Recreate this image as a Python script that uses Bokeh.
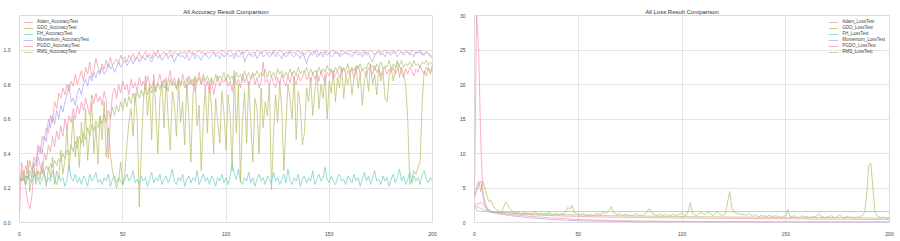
from bokeh.plotting import figure
from bokeh.layouts import row
from bokeh.models import FixedTicker, Legend, LegendItem, PrintfTickFormatter
from bokeh.embed import file_html
from bokeh.resources import INLINE

series_names = ["Adam", "GDO", "FH", "Momentum", "PGDO", "RMS"]
acc_ticks = [0.0, 0.2, 0.4, 0.6, 0.8, 1.0]
loss_ticks = [0, 5, 10, 15, 20, 25, 30]
epoch_ticks = [0, 50, 100, 150, 200]

adam_acc = [
0.22,0.30,0.26,0.33,0.28,0.36,0.30,0.38,0.35,0.45,0.40,0.50,0.48,0.55,0.52,0.62,0.58,0.70,0.66,0.75,
0.72,0.78,0.74,0.80,0.76,0.82,0.79,0.86,0.80,0.84,0.88,0.82,0.90,0.86,0.93,0.84,0.88,0.95,0.90,0.87,
0.92,0.89,0.94,0.90,0.96,0.91,0.93,0.95,0.92,0.97,0.94,0.96,0.93,0.97,0.95,0.98,0.94,0.96,0.99,0.95,
0.97,0.99,0.96,0.98,0.95,0.99,0.97,1.00,0.96,0.98,0.99,0.97,0.98,1.00,0.96,0.99,0.98,0.97,0.99,0.98,
0.99,0.97,1.00,0.98,0.99,0.97,0.99,1.00,0.98,0.99,0.97,0.99,0.98,1.00,0.99,0.97,0.99,0.98,1.00,0.99,
0.98,0.99,1.00,0.98,0.97,0.99,1.00,0.98,0.99,0.98,1.00,0.99,0.97,0.99,0.98,1.00,0.99,0.98,0.99,1.00,
0.98,0.99,0.97,1.00,0.99,0.98,1.00,0.99,0.97,0.99,0.98,1.00,0.99,0.98,0.99,1.00,0.98,0.99,0.97,0.99,
1.00,0.98,0.99,0.99,1.00,0.97,0.99,0.98,1.00,0.99,0.98,0.99,1.00,0.98,0.99,0.97,1.00,0.99,0.98,0.99,
1.00,0.99,0.98,1.00,0.99,0.98,0.99,1.00,0.98,0.99,1.00,0.99,0.97,0.99,1.00,0.98,0.99,1.00,0.99,0.98,
0.99,1.00,0.98,0.99,1.00,0.99,0.98,1.00,0.99,0.98,1.00,0.99,0.98,0.99,1.00,0.98,0.97,0.99,0.98,0.96,
0.95]

gdo_acc = [
0.26,0.24,0.30,0.22,0.36,0.18,0.28,0.34,0.22,0.30,0.25,0.35,0.28,0.21,0.32,0.26,0.38,0.22,0.30,0.25,
0.42,0.28,0.36,0.55,0.30,0.45,0.62,0.38,0.50,0.32,0.58,0.44,0.66,0.36,0.52,0.70,0.40,0.56,0.34,0.62,
0.48,0.70,0.38,0.55,0.40,0.30,0.25,0.20,0.24,0.35,0.22,0.28,0.45,0.58,0.66,0.50,0.75,0.60,0.09,0.44,
0.70,0.85,0.62,0.78,0.48,0.86,0.66,0.40,0.72,0.80,0.55,0.84,0.60,0.42,0.76,0.68,0.50,0.82,0.58,0.70,
0.45,0.80,0.62,0.35,0.74,0.84,0.56,0.68,0.30,0.60,0.78,0.52,0.82,0.66,0.40,0.72,0.58,0.46,0.76,0.64,
0.42,0.74,0.62,0.30,0.88,0.52,0.80,0.23,0.60,0.76,0.46,0.82,0.58,0.35,0.72,0.66,0.40,0.78,0.55,0.70,
0.62,0.80,0.19,0.50,0.74,0.58,0.82,0.66,0.30,0.55,0.80,0.72,0.60,0.85,0.48,0.76,0.68,0.45,0.52,0.78,
0.70,0.84,0.62,0.76,0.88,0.66,0.80,0.72,0.86,0.60,0.82,0.75,0.88,0.70,0.84,0.78,0.90,0.72,0.85,0.80,
0.87,0.74,0.84,0.90,0.78,0.86,0.68,0.82,0.88,0.76,0.92,0.80,0.86,0.74,0.90,0.82,0.88,0.72,0.70,0.85,
0.90,0.82,0.88,0.94,0.84,0.90,0.86,0.80,0.60,0.22,0.25,0.30,0.28,0.32,0.35,0.70,0.88,0.85,0.90,0.86,
0.92]

fh_acc = [
0.25,0.24,0.26,0.22,0.27,0.25,0.23,0.28,0.24,0.26,0.22,0.25,0.29,0.23,0.26,0.24,0.30,0.25,0.22,0.27,
0.24,0.26,0.21,0.25,0.33,0.26,0.24,0.28,0.23,0.26,0.22,0.27,0.25,0.21,0.28,0.24,0.26,0.29,0.23,0.25,
0.22,0.26,0.24,0.28,0.21,0.25,0.27,0.23,0.26,0.24,0.22,0.25,0.28,0.24,0.26,0.30,0.23,0.25,0.22,0.27,
0.24,0.26,0.21,0.25,0.29,0.23,0.26,0.24,0.28,0.22,0.25,0.27,0.23,0.26,0.31,0.24,0.22,0.26,0.24,0.28,
0.21,0.25,0.27,0.23,0.26,0.24,0.30,0.22,0.25,0.28,0.24,0.26,0.22,0.27,0.25,0.21,0.26,0.24,0.28,0.23,
0.26,0.22,0.27,0.34,0.28,0.25,0.31,0.24,0.22,0.26,0.24,0.29,0.23,0.26,0.21,0.25,0.28,0.24,0.26,0.22,
0.27,0.25,0.23,0.29,0.24,0.26,0.22,0.25,0.28,0.23,0.31,0.24,0.22,0.26,0.24,0.28,0.21,0.25,0.27,0.23,
0.26,0.24,0.30,0.22,0.25,0.28,0.24,0.26,0.32,0.25,0.23,0.27,0.24,0.22,0.26,0.28,0.24,0.25,0.22,0.27,
0.25,0.23,0.28,0.24,0.26,0.21,0.25,0.29,0.24,0.27,0.22,0.26,0.30,0.24,0.25,0.22,0.27,0.24,0.26,0.21,
0.25,0.28,0.23,0.26,0.31,0.24,0.27,0.22,0.25,0.29,0.23,0.27,0.24,0.26,0.22,0.28,0.30,0.25,0.23,0.26,
0.24]

momentum_acc = [
0.25,0.26,0.25,0.27,0.26,0.30,0.28,0.35,0.33,0.42,0.44,0.40,0.50,0.47,0.60,0.55,0.62,0.57,0.65,0.60,
0.68,0.64,0.70,0.74,0.80,0.70,0.72,0.68,0.75,0.78,0.74,0.80,0.83,0.79,0.85,0.82,0.87,0.84,0.88,0.86,
0.90,0.86,0.88,0.92,0.89,0.91,0.87,0.90,0.93,0.90,0.92,0.94,0.91,0.93,0.95,0.92,0.94,0.96,0.93,0.95,
0.96,0.94,0.97,0.95,0.93,0.96,0.98,0.95,0.97,0.94,0.96,0.98,0.95,0.97,0.96,0.93,0.96,0.98,0.96,0.97,
0.95,0.97,0.94,0.96,0.98,0.95,0.97,0.96,0.94,0.97,0.98,0.96,0.95,0.97,0.99,0.96,0.97,0.95,0.98,0.96,
0.97,0.98,0.96,0.97,0.95,0.98,0.96,0.97,0.99,0.93,0.96,0.98,0.97,0.96,0.98,0.95,0.97,0.99,0.96,0.97,
0.98,0.96,0.97,0.99,0.96,0.98,0.97,0.95,0.98,0.96,0.97,0.99,0.97,0.96,0.98,0.97,0.95,0.98,0.96,0.92,
0.96,0.98,0.97,0.99,0.96,0.97,0.98,0.96,0.99,0.97,0.98,0.96,0.97,0.99,0.98,0.96,0.97,0.98,0.99,0.97,
0.98,0.96,0.98,0.99,0.97,0.98,0.96,0.99,0.97,0.98,0.95,0.93,0.97,0.98,0.99,0.97,0.98,0.96,0.99,0.98,
0.97,0.99,0.98,0.96,0.98,0.99,0.97,0.98,0.99,0.97,0.98,0.96,0.99,0.98,0.99,0.97,0.98,0.99,0.98,0.97,
0.96]

pgdo_acc = [
0.05,0.35,0.28,0.20,0.12,0.08,0.15,0.30,0.26,0.38,0.33,0.28,0.40,0.36,0.45,0.41,0.50,0.44,0.53,0.48,
0.56,0.50,0.60,0.54,0.62,0.58,0.66,0.60,0.68,0.63,0.70,0.65,0.72,0.67,0.62,0.74,0.69,0.75,0.70,0.73,
0.68,0.76,0.71,0.37,0.60,0.74,0.78,0.72,0.80,0.75,0.82,0.77,0.80,0.74,0.83,0.78,0.81,0.76,0.84,0.79,
0.82,0.77,0.85,0.80,0.78,0.83,0.76,0.81,0.86,0.79,0.83,0.77,0.82,0.88,0.80,0.84,0.78,0.83,0.79,0.86,
0.81,0.77,0.85,0.80,0.83,0.76,0.82,0.87,0.80,0.84,0.78,0.82,0.75,0.83,0.74,0.80,0.85,0.79,0.83,0.81,
0.84,0.79,0.82,0.76,0.85,0.80,0.83,0.78,0.86,0.81,0.84,0.79,0.83,0.87,0.80,0.84,0.78,0.82,0.93,0.81,
0.83,0.79,0.85,0.81,0.78,0.84,0.80,0.86,0.82,0.79,0.85,0.81,0.87,0.83,0.80,0.86,0.82,0.84,0.88,0.83,
0.85,0.81,0.87,0.83,0.86,0.82,0.88,0.84,0.81,0.87,0.85,0.89,0.83,0.86,0.88,0.84,0.87,0.90,0.85,0.88,
0.86,0.89,0.84,0.88,0.91,0.86,0.89,0.87,0.85,0.90,0.88,0.86,0.91,0.87,0.89,0.85,0.88,0.90,0.86,0.89,
0.87,0.90,0.86,0.89,0.91,0.87,0.84,0.89,0.86,0.90,0.88,0.85,0.89,0.87,0.91,0.88,0.86,0.90,0.89,0.87,
0.90]

rms_acc = [
0.25,0.26,0.24,0.27,0.25,0.28,0.26,0.29,0.27,0.30,0.28,0.31,0.29,0.33,0.30,0.34,0.32,0.36,0.33,0.37,
0.35,0.40,0.37,0.42,0.39,0.45,0.41,0.47,0.43,0.50,0.46,0.52,0.48,0.55,0.50,0.57,0.53,0.59,0.55,0.61,
0.57,0.63,0.58,0.65,0.60,0.67,0.62,0.68,0.64,0.70,0.65,0.72,0.67,0.73,0.69,0.75,0.70,0.76,0.72,0.77,
0.73,0.78,0.74,0.80,0.75,0.79,0.76,0.81,0.77,0.82,0.78,0.80,0.76,0.83,0.79,0.81,0.77,0.84,0.80,0.82,
0.78,0.84,0.80,0.83,0.79,0.85,0.81,0.84,0.80,0.86,0.82,0.85,0.81,0.84,0.80,0.86,0.82,0.85,0.83,0.87,
0.82,0.86,0.83,0.85,0.81,0.87,0.84,0.86,0.82,0.88,0.84,0.87,0.83,0.86,0.85,0.88,0.84,0.87,0.85,0.89,
0.84,0.88,0.85,0.87,0.83,0.89,0.86,0.88,0.84,0.87,0.85,0.89,0.86,0.88,0.85,0.90,0.86,0.88,0.87,0.90,
0.85,0.89,0.86,0.88,0.87,0.90,0.86,0.89,0.87,0.91,0.88,0.89,0.86,0.90,0.88,0.91,0.87,0.89,0.88,0.92,
0.87,0.90,0.88,0.91,0.89,0.92,0.88,0.90,0.89,0.93,0.90,0.91,0.88,0.92,0.90,0.93,0.89,0.91,0.90,0.94,
0.89,0.92,0.90,0.93,0.91,0.94,0.90,0.92,0.91,0.93,0.90,0.94,0.91,0.92,0.90,0.93,0.92,0.94,0.91,0.93,
0.92]

adam_loss = [
2.5,2.8,2.6,3.0,2.7,2.3,2.0,1.8,1.6,1.55,1.5,1.48,1.45,1.42,1.4,1.38,1.35,1.33,1.3,1.28,
1.26,1.24,1.22,1.2,1.18,1.16,1.15,1.13,1.12,1.1,1.08,1.07,1.06,1.05,1.03,1.02,1.01,1.0,0.99,0.98,
0.97,0.96,0.95,0.94,0.93,0.92,0.92,0.91,0.9,0.89,0.88,0.88,0.87,0.86,0.86,0.85,0.84,0.84,0.83,0.82,
0.82,0.81,0.81,0.8,0.8,0.79,0.79,0.78,0.78,0.77,0.77,0.76,0.76,0.75,0.75,0.75,0.74,0.74,0.73,0.73,
0.73,0.72,0.72,0.72,0.71,0.71,0.71,0.7,0.7,0.7,0.69,0.69,0.69,0.68,0.68,0.68,0.67,0.67,0.67,0.66,
0.66,0.66,0.66,0.65,0.65,0.65,0.64,0.64,0.64,0.64,0.63,0.63,0.63,0.62,0.62,0.62,0.62,0.61,0.61,0.61,
0.61,0.6,0.6,0.6,0.6,0.59,0.59,0.59,0.59,0.58,0.58,0.58,0.58,0.57,0.57,0.57,0.57,0.56,0.56,0.56,
0.56,0.56,0.55,0.55,0.55,0.55,0.54,0.54,0.54,0.54,0.54,0.53,0.53,0.53,0.53,0.52,0.52,0.52,0.52,0.52,
0.51,0.51,0.51,0.51,0.51,0.5,0.5,0.5,0.5,0.5,0.49,0.49,0.49,0.49,0.49,0.48,0.48,0.48,0.48,0.48,
0.47,0.47,0.47,0.47,0.47,0.46,0.46,0.46,0.46,0.46,0.45,0.45,0.45,0.45,0.45,0.44,0.44,0.44,0.44,0.44,
0.44]

gdo_loss = [
3.5,5.0,6.0,4.5,6.0,5.0,3.8,3.0,3.2,2.4,2.0,1.8,1.6,1.5,2.2,3.0,2.6,2.0,1.7,1.5,
1.4,1.6,1.3,1.2,1.5,1.3,1.4,1.2,1.1,1.7,1.3,1.2,1.4,1.1,1.3,1.2,1.6,1.2,1.1,1.3,
1.2,1.1,1.3,1.2,1.6,2.2,1.9,2.5,1.5,1.3,1.2,1.1,1.3,1.2,1.0,1.1,1.2,1.0,1.1,1.3,
1.2,1.1,1.6,1.3,1.5,1.8,2.3,1.4,1.2,1.1,1.3,1.0,1.1,1.2,1.0,1.1,0.9,1.2,1.3,1.0,
1.1,1.0,1.2,1.4,2.0,1.8,1.2,1.1,1.0,1.3,1.1,1.0,1.2,0.9,1.1,1.0,1.2,1.0,1.1,1.2,
1.3,1.1,1.0,1.6,2.9,1.4,1.1,1.0,1.2,1.5,1.3,1.1,1.4,1.5,1.2,1.0,1.3,1.6,1.2,1.1,
1.0,1.3,3.0,4.5,2.2,1.5,1.4,1.2,1.3,1.1,1.2,1.0,1.3,1.1,0.9,1.2,1.0,0.8,1.1,0.9,
1.0,0.8,1.1,0.9,0.8,1.0,0.9,0.8,0.7,0.9,1.0,1.9,0.9,0.8,1.0,0.9,0.7,0.8,1.0,0.8,
0.9,0.8,0.7,0.9,0.8,1.0,1.3,0.9,0.8,0.7,0.9,0.8,1.0,0.8,0.7,0.9,1.1,0.8,0.7,0.8,
0.9,0.7,0.8,0.7,0.8,0.7,0.9,1.0,1.5,4.0,8.3,8.6,5.0,1.5,1.0,0.8,0.7,0.8,0.7,0.6,
0.7]

fh_loss = [
2.6,1.8,1.62,1.6,1.6,1.59,1.59,1.59,1.58,1.58,1.58,1.58,1.58,1.58,1.58,1.58,1.58,1.58,1.58,1.58,
1.58,1.58,1.58,1.58,1.58,1.58,1.58,1.58,1.58,1.58,1.58,1.58,1.58,1.58,1.58,1.58,1.58,1.58,1.58,1.58,
1.58,1.58,1.58,1.58,1.58,1.58,1.58,1.58,1.58,1.58,1.58,1.58,1.58,1.58,1.58,1.58,1.58,1.58,1.58,1.58,
1.58,1.58,1.58,1.58,1.58,1.58,1.58,1.58,1.58,1.58,1.58,1.58,1.58,1.58,1.58,1.58,1.58,1.58,1.58,1.58,
1.58,1.58,1.58,1.58,1.58,1.58,1.58,1.58,1.58,1.58,1.58,1.58,1.58,1.58,1.58,1.58,1.58,1.58,1.58,1.58,
1.58,1.58,1.58,1.58,1.58,1.58,1.58,1.58,1.58,1.58,1.58,1.58,1.58,1.58,1.58,1.58,1.58,1.58,1.58,1.58,
1.58,1.58,1.58,1.58,1.58,1.58,1.58,1.58,1.58,1.58,1.58,1.58,1.58,1.58,1.58,1.58,1.58,1.58,1.58,1.58,
1.58,1.58,1.58,1.58,1.58,1.58,1.58,1.58,1.58,1.58,1.58,1.58,1.58,1.58,1.58,1.58,1.58,1.58,1.58,1.58,
1.58,1.58,1.58,1.58,1.58,1.58,1.58,1.58,1.58,1.58,1.58,1.58,1.58,1.58,1.58,1.58,1.58,1.58,1.58,1.58,
1.58,1.58,1.58,1.58,1.58,1.58,1.58,1.58,1.58,1.58,1.58,1.58,1.58,1.58,1.58,1.58,1.58,1.58,1.58,1.58,
1.58]

momentum_loss = [
4.0,4.5,5.5,6.0,4.0,2.5,1.8,1.5,1.45,1.4,1.35,1.3,1.25,1.2,1.15,1.1,1.05,1.0,0.97,0.94,
0.9,0.87,0.84,0.8,0.77,0.74,0.71,0.68,0.65,0.62,0.6,0.57,0.55,0.53,0.5,0.48,0.46,0.44,0.42,0.4,
0.38,0.37,0.35,0.34,0.33,0.32,0.3,0.29,0.28,0.27,0.26,0.25,0.24,0.24,0.23,0.22,0.22,0.21,0.2,0.2,
0.19,0.19,0.18,0.18,0.17,0.17,0.17,0.16,0.16,0.16,0.15,0.15,0.15,0.14,0.14,0.14,0.14,0.13,0.13,0.13,
0.13,0.12,0.12,0.12,0.12,0.12,0.11,0.11,0.11,0.11,0.11,0.11,0.1,0.1,0.1,0.1,0.1,0.1,0.1,0.1,
0.1,0.09,0.09,0.09,0.09,0.09,0.09,0.09,0.09,0.09,0.09,0.08,0.08,0.08,0.08,0.08,0.08,0.08,0.08,0.08,
0.08,0.08,0.08,0.08,0.07,0.07,0.07,0.07,0.07,0.07,0.07,0.07,0.07,0.07,0.07,0.07,0.07,0.07,0.07,0.07,
0.07,0.07,0.07,0.07,0.06,0.06,0.06,0.06,0.06,0.06,0.06,0.06,0.06,0.06,0.06,0.06,0.06,0.06,0.06,0.06,
0.06,0.06,0.06,0.06,0.06,0.06,0.06,0.06,0.06,0.06,0.05,0.05,0.05,0.05,0.05,0.05,0.05,0.05,0.05,0.05,
0.05,0.05,0.05,0.05,0.05,0.05,0.05,0.05,0.05,0.05,0.05,0.05,0.05,0.05,0.05,0.05,0.05,0.05,0.05,0.05,
0.05]

pgdo_loss = [
3.5,30.0,25.0,12.0,4.5,3.0,2.2,1.8,1.6,1.5,1.45,1.4,1.35,1.3,1.28,1.25,1.2,1.18,1.15,1.12,
1.1,1.07,1.04,1.0,0.98,0.95,0.92,0.9,0.87,0.85,0.82,0.8,0.78,0.75,0.73,0.7,0.68,0.66,0.64,0.62,
0.6,0.58,0.56,0.62,0.64,0.55,0.5,0.48,0.46,0.44,0.42,0.41,0.4,0.39,0.38,0.37,0.36,0.35,0.34,0.33,
0.32,0.31,0.3,0.3,0.29,0.28,0.28,0.27,0.26,0.26,0.25,0.25,0.24,0.24,0.23,0.23,0.22,0.22,0.21,0.21,
0.2,0.2,0.2,0.19,0.19,0.19,0.18,0.18,0.18,0.17,0.17,0.17,0.17,0.16,0.16,0.16,0.16,0.15,0.15,0.15,
0.15,0.15,0.14,0.14,0.14,0.14,0.14,0.13,0.13,0.13,0.13,0.13,0.13,0.12,0.12,0.12,0.12,0.12,0.12,0.12,
0.12,0.11,0.11,0.11,0.11,0.11,0.11,0.11,0.11,0.1,0.1,0.1,0.1,0.1,0.1,0.1,0.1,0.1,0.1,0.1,
0.1,0.1,0.09,0.09,0.09,0.09,0.09,0.09,0.09,0.09,0.09,0.09,0.09,0.09,0.09,0.09,0.09,0.09,0.08,0.08,
0.08,0.08,0.08,0.08,0.08,0.08,0.08,0.08,0.08,0.08,0.08,0.08,0.08,0.08,0.08,0.08,0.08,0.08,0.08,0.08,
0.08,0.08,0.08,0.08,0.08,0.08,0.08,0.08,0.08,0.08,0.08,0.08,0.08,0.08,0.08,0.08,0.08,0.08,0.08,0.08,
0.08]

rms_loss = [
2.0,2.4,2.2,2.0,1.9,1.8,1.7,1.65,1.6,1.57,1.54,1.52,1.5,1.48,1.46,1.44,1.43,1.41,1.4,1.38,
1.37,1.35,1.34,1.33,1.31,1.3,1.29,1.28,1.27,1.26,1.25,1.24,1.23,1.22,1.21,1.2,1.19,1.18,1.17,1.16,
1.15,1.15,1.14,1.13,1.12,1.12,1.11,1.1,1.1,1.09,1.08,1.08,1.07,1.06,1.06,1.05,1.05,1.04,1.03,1.03,
1.02,1.02,1.01,1.01,1.0,1.0,0.99,0.99,0.98,0.98,0.97,0.97,0.96,0.96,0.96,0.95,0.95,0.94,0.94,0.94,
0.93,0.93,0.92,0.92,0.92,0.91,0.91,0.91,0.9,0.9,0.9,0.89,0.89,0.89,0.88,0.88,0.88,0.87,0.87,0.87,
0.86,0.86,0.86,0.85,0.85,0.85,0.84,0.84,0.84,0.84,0.83,0.83,0.83,0.82,0.82,0.82,0.82,0.81,0.81,0.81,
0.8,0.8,0.8,0.8,0.79,0.79,0.79,0.79,0.78,0.78,0.78,0.78,0.77,0.77,0.77,0.77,0.76,0.76,0.76,0.76,
0.75,0.75,0.75,0.75,0.74,0.74,0.74,0.74,0.74,0.73,0.73,0.73,0.73,0.72,0.72,0.72,0.72,0.72,0.71,0.71,
0.71,0.71,0.71,0.7,0.7,0.7,0.7,0.7,0.69,0.69,0.69,0.69,0.69,0.68,0.68,0.68,0.68,0.68,0.67,0.67,
0.67,0.67,0.67,0.66,0.66,0.66,0.66,0.66,0.65,0.65,0.65,0.65,0.65,0.64,0.64,0.64,0.64,0.64,0.63,0.63,
0.63]

colors = ["#f49aa2", "#bcbf6e", "#74cfc6", "#aea8f4", "#f596b6", "#b3c47a"]
acc_series = [adam_acc, gdo_acc, fh_acc, momentum_acc, pgdo_acc, rms_acc]
loss_series = [adam_loss, gdo_loss, fh_loss, momentum_loss, pgdo_loss, rms_loss]


def make_fig(title, ymax, yticks, yfmt, series, suffix, legend_loc, bl, br, bb):
    p = figure(width=450, height=241, x_range=(0, 200), y_range=(0, ymax),
               output_backend="svg", toolbar_location=None,
               min_border_left=bl, min_border_right=br, min_border_top=15,
               min_border_bottom=bb)
    p.title.text = title
    p.title.align = "center"
    p.title.text_font_size = "6px"
    p.title.text_font_style = "normal"
    p.title.text_font = "Liberation Sans"
    p.title.text_color = "#333333"
    p.title.standoff = 1
    p.title.offset = 0
    p.background_fill_color = "white"
    p.outline_line_color = "#dddddd"
    p.xaxis.ticker = FixedTicker(ticks=epoch_ticks)
    p.yaxis.ticker = FixedTicker(ticks=yticks)
    p.yaxis.formatter = PrintfTickFormatter(format=yfmt)
    for ax in (p.xaxis[0], p.yaxis[0]):
        ax.axis_line_color = None
        ax.major_tick_line_color = None
        ax.minor_tick_line_color = None
        ax.major_label_text_font_size = "5px"
        ax.major_label_text_font = "Liberation Sans"
        ax.major_label_text_color = "#444444"
        ax.major_label_standoff = 3
    p.xgrid.grid_line_color = "#e3e3e3"
    p.ygrid.grid_line_color = "#e3e3e3"
    p.xgrid.grid_line_width = 1
    p.ygrid.grid_line_width = 1
    items = []
    for name, col, ys in zip(series_names, colors, series):
        xs = list(range(len(ys)))
        r = p.line(xs, ys, line_color=col, line_width=1, line_alpha=0.75)
        items.append(LegendItem(label=name + suffix, renderers=[r]))
    leg = Legend(items=items, location=legend_loc)
    leg.label_text_font_size = "4.5px"
    leg.label_text_font = "Liberation Sans"
    leg.label_text_color = "#444444"
    leg.label_height = 4
    leg.glyph_height = 4
    leg.glyph_width = 10
    leg.spacing = 1
    leg.padding = 2
    leg.margin = 2
    leg.label_standoff = 4
    leg.border_line_alpha = 0
    leg.background_fill_alpha = 0
    p.add_layout(leg)
    return p


p1 = make_fig("All Accuracy Result Comparison", 1.2, acc_ticks, "%.1f", acc_series,
              "_AccuracyTest", "top_left", 17, 18, 17)
p2 = make_fig("All Loss Result Comparison", 30, loss_ticks, "%d", loss_series,
              "_LossTest", "top_right", 24, 11, 19)

layout = row(p1, p2)
open("out.html", "w").write(file_html(layout, INLINE))
